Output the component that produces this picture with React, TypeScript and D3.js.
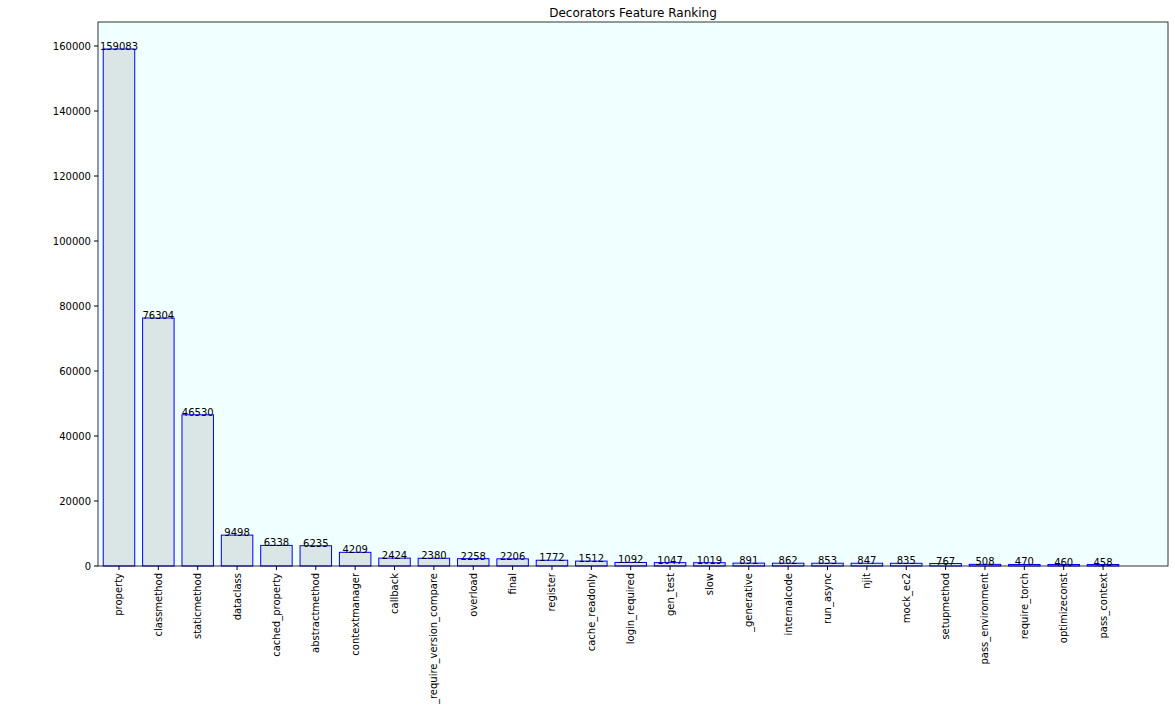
import React from "react";
import * as d3 from "d3";

const categories = ["property","classmethod","staticmethod","dataclass","cached_property","abstractmethod","contextmanager","callback","_require_version_compare","overload","final","register","cache_readonly","login_required","gen_test","slow","_generative","internalcode","run_async","njit","mock_ec2","setupmethod","pass_environment","require_torch","optimizeconst","pass_context"];
const values = [159083,76304,46530,9498,6338,6235,4209,2424,2380,2258,2206,1772,1512,1092,1047,1019,891,862,853,847,835,767,508,470,460,458];
const yTicks = [0,20000,40000,60000,80000,100000,120000,140000,160000];

export default function App() {
  const L = 98, R = 1168, T = 22, B = 566;
  const x = d3.scaleLinear().domain([-0.533, 26.65]).range([L, R]);
  const y = d3.scaleLinear().domain([0, 167385]).range([B, T]);
  const bw = (x(0.8) - x(0));
  return (
    <svg width={1175} height={711} style={{ position: "absolute", left: 0, top: 0, fontFamily: "DejaVu Sans" }}>
      <rect width={1175} height={711} fill="#fff" />
      <rect x={L} y={T} width={R - L} height={B - T} fill="#f0ffff" />
      <text x={(L + R) / 2} y={17} fontSize={12} textAnchor="middle">Decorators Feature Ranking</text>
      {values.map((v, i) => (
        <g key={i}>
          <rect x={x(i) - bw / 2} y={y(v)} width={bw} height={B - y(v)} fill="#d9e6e5" stroke="#0000ff" strokeWidth={1} />
          <text x={x(i)} y={y(v) + 1} fontSize={10} textAnchor="middle" fill="#000">{v}</text>
          <line x1={x(i)} x2={x(i)} y1={B} y2={B + 4} stroke="#000" />
          <text transform={`translate(${x(i) + 3.5},${B + 7}) rotate(-90)`} fontSize={10} textAnchor="end">{categories[i]}</text>
        </g>
      ))}
      {yTicks.map((t) => (
        <g key={t}>
          <line x1={L - 4} x2={L} y1={y(t)} y2={y(t)} stroke="#000" />
          <text x={L - 7} y={y(t) + 3.5} fontSize={10} textAnchor="end">{t}</text>
        </g>
      ))}
      <rect x={L} y={T} width={R - L} height={B - T} fill="none" stroke="#000" strokeWidth={0.8} />
    </svg>
  );
}
